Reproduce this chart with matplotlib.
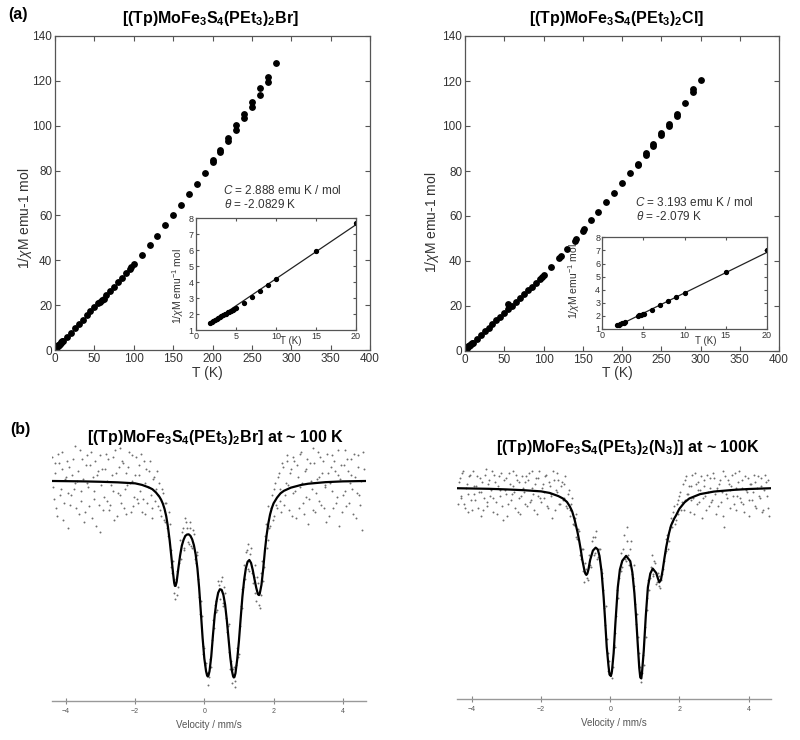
import matplotlib
matplotlib.use("Agg")
import matplotlib.pyplot as plt

plt.rcParams['font.family'] = ['Liberation Sans', 'DejaVu Sans']
plt.rcParams['mathtext.fontset'] = 'custom'
plt.rcParams['mathtext.rm'] = 'Liberation Sans'
plt.rcParams['mathtext.it'] = 'Liberation Sans:italic'
plt.rcParams['mathtext.bf'] = 'Liberation Sans:bold'

# ---- (a) 1/chi vs T, Br compound
T_br = [1.8, 2.0, 2.5, 3.0, 3.5, 4.0, 4.5, 5.0, 6, 7, 8, 9, 10, 15, 20,
        25, 30, 35, 40, 45, 50, 55, 57, 60, 62, 65, 70, 75, 80, 85, 90, 95, 97, 100,
        110, 120, 130, 140, 150, 160, 170, 180, 190,
        200, 200, 210, 210, 220, 220, 230, 230, 240, 240, 250, 250, 260, 260, 270, 270, 280]
inv_br = [1.45, 1.5, 1.65, 1.8, 1.95, 2.1, 2.25, 2.4, 2.75, 3.1, 3.45, 3.8, 4.2, 5.9, 7.7,
          9.7, 11.6, 13.5, 15.4, 17.2, 19.1, 20.8, 21.3, 22.3, 22.8, 24.5, 26.4, 28.3, 30.3, 32.2, 34.2, 36.3, 37.2, 38.3,
          42.3, 46.6, 51.0, 55.6, 60.4, 64.7, 69.4, 74.1, 78.9,
          83.8, 84.6, 88.3, 89.3, 93.0, 94.7, 98.2, 100.1, 103.4, 105.2, 108.3, 110.7, 113.8, 116.6, 119.3, 121.9, 127.8]

# inset (low T)
Ti_br = [1.8, 2.0, 2.2, 2.4, 2.6, 2.8, 3.0, 3.2, 3.4, 3.6, 3.8, 4.0, 4.2, 4.4, 4.6, 4.8, 5.0,
         6, 7, 8, 9, 10, 15, 20]
vi_br = [1.45, 1.5, 1.55, 1.6, 1.68, 1.74, 1.8, 1.86, 1.92, 1.98, 2.03, 2.1, 2.15, 2.2, 2.27, 2.33, 2.38,
         2.72, 3.08, 3.45, 3.82, 4.18, 5.93, 7.72]
fitT_br = [1.8, 20]
fitv_br = [1.42, 7.6]

# ---- (a) Cl compound
T_cl = [1.8, 2.2, 2.6, 4.4, 4.8, 6, 7, 8, 9, 10, 15, 20,
        25, 30, 35, 40, 45, 50, 55, 55, 60, 65, 70, 75, 80, 85, 90, 95, 98, 100,
        110, 120, 122, 130, 140, 142, 150, 152, 160, 170, 180, 190, 200, 210,
        220, 220, 230, 230, 240, 240, 250, 250, 260, 260, 270, 270, 280, 290, 290, 300]
inv_cl = [1.3, 1.37, 1.46, 2.02, 2.12, 2.48, 2.8, 3.14, 3.42, 3.72, 5.38, 7.02,
          8.7, 10.3, 12.0, 13.6, 15.3, 17.0, 18.6, 20.8, 20.2, 21.9, 23.6, 25.3, 27.0, 28.6, 30.3, 32.0, 32.9, 33.6,
          37.3, 41.3, 42.1, 45.5, 48.9, 49.6, 53.2, 54.0, 58.1, 61.8, 66.2, 70.2, 74.7, 79.1,
          82.6, 83.3, 87.0, 88.2, 91.1, 92.2, 95.9, 97.0, 99.9, 101.0, 104.5, 105.5, 110.2, 115.1, 116.6, 120.3]

Ti_cl = [1.8, 2.0, 2.2, 2.4, 2.6, 2.8, 4.3, 4.5, 4.7, 4.9, 5.1, 6, 7, 8, 9, 10, 15, 20]
vi_cl = [1.3, 1.33, 1.37, 1.42, 1.46, 1.5, 1.98, 2.04, 2.1, 2.15, 2.18, 2.48, 2.8, 3.14, 3.42, 3.72, 5.38, 7.02]
fitT_cl = [1.8, 20]
fitv_cl = [1.22, 6.85]

# ---- (b) Mossbauer spectra (velocity channels, mm/s), two interleaved channel sets
vel = [-4.40, -4.35, -4.30, -4.25, -4.20, -4.15, -4.10, -4.05, -4.00, -3.95,
       -3.90, -3.85, -3.80, -3.75, -3.70, -3.65, -3.60, -3.55, -3.50, -3.45,
       -3.40, -3.35, -3.30, -3.25, -3.20, -3.15, -3.10, -3.05, -3.00, -2.95,
       -2.90, -2.85, -2.80, -2.75, -2.70, -2.65, -2.60, -2.55, -2.50, -2.45,
       -2.40, -2.35, -2.30, -2.25, -2.20, -2.15, -2.10, -2.05, -2.00, -1.95,
       -1.90, -1.85, -1.80, -1.75, -1.70, -1.65, -1.60, -1.55, -1.50, -1.45,
       -1.40, -1.35, -1.30, -1.25, -1.20, -1.15, -1.10, -1.05, -1.00, -0.95,
       -0.90, -0.85, -0.80, -0.75, -0.70, -0.65, -0.60, -0.55, -0.50, -0.45,
       -0.40, -0.35, -0.30, -0.25, -0.20, -0.15, -0.10, -0.05, 0.00, 0.05,
       0.10, 0.15, 0.20, 0.25, 0.30, 0.35, 0.40, 0.45, 0.50, 0.55,
       0.60, 0.65, 0.70, 0.75, 0.80, 0.85, 0.90, 0.95, 1.00, 1.05,
       1.10, 1.15, 1.20, 1.25, 1.30, 1.35, 1.40, 1.45, 1.50, 1.55,
       1.60, 1.65, 1.70, 1.75, 1.80, 1.85, 1.90, 1.95, 2.00, 2.05,
       2.10, 2.15, 2.20, 2.25, 2.30, 2.35, 2.40, 2.45, 2.50, 2.55,
       2.60, 2.65, 2.70, 2.75, 2.80, 2.85, 2.90, 2.95, 3.00, 3.05,
       3.10, 3.15, 3.20, 3.25, 3.30, 3.35, 3.40, 3.45, 3.50, 3.55,
       3.60, 3.65, 3.70, 3.75, 3.80, 3.85, 3.90, 3.95, 4.00, 4.05,
       4.10, 4.15, 4.20, 4.25, 4.30, 4.35, 4.40, 4.45, 4.50, 4.55,
       4.60]

vel2 = [-4.375, -4.325, -4.275, -4.225, -4.175, -4.125, -4.075, -4.025, -3.975, -3.925,
        -3.875, -3.825, -3.775, -3.725, -3.675, -3.625, -3.575, -3.525, -3.475, -3.425,
        -3.375, -3.325, -3.275, -3.225, -3.175, -3.125, -3.075, -3.025, -2.975, -2.925,
        -2.875, -2.825, -2.775, -2.725, -2.675, -2.625, -2.575, -2.525, -2.475, -2.425,
        -2.375, -2.325, -2.275, -2.225, -2.175, -2.125, -2.075, -2.025, -1.975, -1.925,
        -1.875, -1.825, -1.775, -1.725, -1.675, -1.625, -1.575, -1.525, -1.475, -1.425,
        -1.375, -1.325, -1.275, -1.225, -1.175, -1.125, -1.075, -1.025, -0.975, -0.925,
        -0.875, -0.825, -0.775, -0.725, -0.675, -0.625, -0.575, -0.525, -0.475, -0.425,
        -0.375, -0.325, -0.275, -0.225, -0.175, -0.125, -0.075, -0.025, 0.025, 0.075,
        0.125, 0.175, 0.225, 0.275, 0.325, 0.375, 0.425, 0.475, 0.525, 0.575,
        0.625, 0.675, 0.725, 0.775, 0.825, 0.875, 0.925, 0.975, 1.025, 1.075,
        1.125, 1.175, 1.225, 1.275, 1.325, 1.375, 1.425, 1.475, 1.525, 1.575,
        1.625, 1.675, 1.725, 1.775, 1.825, 1.875, 1.925, 1.975, 2.025, 2.075,
        2.125, 2.175, 2.225, 2.275, 2.325, 2.375, 2.425, 2.475, 2.525, 2.575,
        2.625, 2.675, 2.725, 2.775, 2.825, 2.875, 2.925, 2.975, 3.025, 3.075,
        3.125, 3.175, 3.225, 3.275, 3.325, 3.375, 3.425, 3.475, 3.525, 3.575,
        3.625, 3.675, 3.725, 3.775, 3.825, 3.875, 3.925, 3.975, 4.025, 4.075,
        4.125, 4.175, 4.225, 4.275, 4.325, 4.375, 4.425, 4.475, 4.525, 4.575]

trans_br = [101.2, 99.1, 100.4, 98.2, 100.9, 99.6, 101.5, 98.9, 100.2, 97.6,
            100.7, 99.3, 101.1, 99.9, 98.6, 100.5, 101.6, 99.0, 100.1, 98.4,
            101.3, 99.7, 100.8, 98.1, 99.5, 101.0, 100.3, 98.8, 97.4, 100.6,
            99.2, 101.4, 100.0, 98.5, 99.8, 101.2, 98.0, 100.4, 99.4, 101.7,
            98.9, 100.9, 99.6, 98.3, 100.7, 99.9, 101.3, 98.7, 100.3, 99.1,
            100.8, 99.5, 98.4, 101.0, 99.9, 98.9, 100.5, 99.3, 98.1, 100.2,
            99.6, 98.7, 99.9, 98.2, 99.4, 97.9, 98.9, 97.2, 97.8, 95.6,
            95.9, 94.0, 95.4, 94.6, 97.0, 97.4, 96.5, 98.1, 97.6, 96.8,
            97.9, 96.6, 97.3, 95.8, 96.2, 94.1, 93.9, 91.6, 91.5, 90.7,
            89.6, 90.9, 90.5, 92.9, 93.7, 93.3, 94.9, 94.0, 95.1, 93.6,
            94.3, 92.3, 92.7, 90.4, 89.7, 90.5, 89.5, 91.5, 91.2, 93.6,
            93.5, 95.7, 96.4, 96.8, 95.4, 96.6, 94.8, 95.7, 93.9, 94.8,
            93.5, 95.3, 94.9, 97.2, 96.6, 98.7, 97.7, 99.3, 98.2, 99.9,
            98.6, 100.4, 99.0, 100.9, 98.8, 99.9, 101.3, 98.5, 100.6, 99.4,
            101.0, 98.1, 100.2, 99.7, 101.5, 98.9, 100.5, 99.2, 97.8, 100.9,
            99.6, 101.7, 98.4, 100.1, 99.0, 101.2, 100.4, 98.6, 99.8, 101.4,
            98.2, 100.7, 99.5, 101.0, 98.9, 100.3, 97.7, 100.8, 99.3, 101.6,
            98.7, 100.5, 99.9, 101.1, 98.3, 100.2, 99.4, 101.3, 98.8, 97.5,
            100.6]

trans2_br = [99.7, 100.9, 98.6, 101.4, 99.3, 100.6, 98.0, 100.1, 101.0, 99.4,
             98.8, 100.3, 99.6, 101.8, 100.0, 98.3, 99.5, 101.1, 97.9, 100.8,
             99.9, 98.7, 101.5, 100.2, 99.1, 97.7, 100.5, 101.3, 99.8, 98.5,
             100.6, 99.0, 101.1, 98.8, 100.3, 99.5, 101.6, 98.2, 100.7, 99.3,
             101.0, 98.6, 100.4, 99.8, 101.5, 98.4, 100.0, 99.2, 101.2, 98.9,
             100.3, 101.4, 99.1, 98.3, 100.6, 99.7, 101.0, 98.6, 100.1, 99.0,
             100.5, 99.3, 98.5, 99.6, 98.0, 98.9, 97.6, 98.4, 96.5, 95.3,
             94.3, 95.0, 94.2, 95.8, 96.0, 97.6, 96.6, 97.9, 96.9, 97.6,
             96.7, 97.5, 96.0, 96.4, 95.0, 93.2, 93.1, 91.2, 90.6, 90.2,
             90.0, 90.5, 91.9, 92.5, 93.9, 93.4, 94.7, 94.9, 93.8, 94.6,
             93.0, 92.6, 91.3, 90.8, 90.4, 89.8, 90.6, 91.0, 92.6, 94.5,
             94.6, 95.0, 96.5, 95.5, 96.3, 95.3, 95.1, 94.3, 95.1, 93.7,
             94.2, 95.9, 95.6, 97.8, 97.0, 97.6, 98.6, 98.0, 99.6, 98.8,
             100.2, 99.6, 98.4, 100.7, 99.3, 101.0, 99.8, 100.4, 98.2, 101.2,
             99.5, 100.8, 98.6, 101.4, 99.9, 98.3, 100.6, 101.1, 99.1, 100.0,
             98.5, 100.9, 99.4, 101.5, 100.2, 98.8, 101.0, 99.7, 97.9, 100.4,
             99.9, 101.3, 98.6, 100.5, 99.2, 101.6, 100.1, 98.4, 100.8, 99.5,
             101.1, 98.9, 100.3, 99.6, 101.4, 98.1, 100.7, 99.3, 100.0, 101.5]

trans_n3 = [99.2, 100.5, 99.6, 100.9, 99.0, 100.2, 99.7, 100.7, 98.9, 100.1,
            99.4, 100.6, 99.8, 98.6, 100.3, 99.5, 101.0, 99.1, 100.4, 99.9,
            98.8, 100.7, 99.3, 100.1, 99.6, 100.8, 98.4, 99.9, 100.5, 99.2,
            100.2, 99.7, 100.9, 99.0, 100.4, 99.5, 98.7, 100.6, 99.8, 100.3,
            99.1, 100.8, 99.4, 100.0, 98.9, 100.5, 99.6, 100.9, 99.3, 100.2,
            99.5, 100.7, 99.0, 100.1, 99.7, 100.9, 98.9, 99.8, 100.4, 99.2,
            100.3, 99.5, 100.6, 99.0, 99.9, 98.6, 99.5, 98.1, 98.7, 97.4,
            97.8, 96.4, 96.9, 95.2, 95.9, 95.3, 96.6, 96.0, 97.5, 96.7,
            97.8, 96.5, 96.9, 95.4, 94.8, 93.0, 92.3, 90.7, 90.5, 90.3,
            92.0, 92.6, 94.8, 95.4, 96.7, 96.0, 97.6, 96.3, 98.0, 96.1,
            97.3, 95.4, 95.0, 93.1, 92.4, 90.4, 90.1, 91.5, 92.9, 93.8,
            95.3, 95.4, 96.6, 95.6, 96.2, 95.2, 95.5, 94.9, 95.6, 96.3,
            96.8, 97.6, 97.3, 98.5, 98.0, 99.1, 98.4, 99.4, 99.6, 98.9,
            100.2, 99.4, 100.6, 99.7, 98.8, 100.1, 99.5, 100.8, 99.2, 100.3,
            99.9, 98.5, 100.4, 99.6, 100.7, 99.1, 100.0, 99.4, 100.5, 98.7,
            99.9, 100.2, 99.3, 100.9, 98.0, 99.7, 100.4, 99.0, 100.1, 99.6,
            100.8, 98.9, 100.3, 99.5, 100.0, 99.2, 100.6, 99.8, 98.6, 100.2,
            99.4, 100.7, 99.1, 100.0, 99.6, 100.5, 98.8, 99.9, 100.3, 99.0,
            98.6]

trans2_n3 = [100.3, 99.5, 100.8, 99.2, 100.0, 98.8, 100.6, 99.4, 100.9, 99.7,
             100.1, 99.0, 100.5, 99.8, 98.9, 100.7, 99.3, 100.2, 99.6, 100.9,
             99.5, 100.3, 98.7, 100.6, 99.9, 99.1, 100.4, 99.7, 98.6, 100.8,
             99.4, 100.1, 99.8, 100.7, 98.8, 100.3, 99.6, 100.0, 99.2, 100.6,
             100.4, 99.3, 100.9, 99.7, 100.2, 98.7, 100.5, 99.5, 100.0, 99.8,
             100.6, 99.1, 100.3, 99.6, 98.5, 100.4, 99.9, 100.8, 99.2, 100.1,
             99.4, 100.2, 99.1, 99.7, 98.9, 99.2, 98.2, 98.5, 97.5, 97.9,
             96.6, 96.9, 95.8, 96.2, 95.4, 96.0, 96.1, 97.3, 96.6, 97.5,
             96.4, 96.9, 95.9, 95.7, 93.9, 94.0, 91.6, 91.2, 90.6, 90.9,
             91.9, 93.5, 94.4, 95.9, 95.8, 96.9, 96.4, 97.3, 96.6, 96.9,
             95.6, 96.1, 94.1, 93.6, 91.6, 90.9, 90.6, 91.0, 92.4, 94.4,
             94.8, 96.0, 95.5, 96.3, 95.1, 95.7, 95.0, 95.3, 95.9, 96.7,
             97.4, 96.9, 98.0, 98.3, 98.8, 98.2, 99.2, 98.7, 99.8, 99.3,
             98.9, 100.4, 99.7, 100.1, 99.4, 100.7, 98.7, 100.2, 99.9, 99.3,
             100.6, 99.5, 100.1, 98.9, 99.8, 100.5, 99.3, 100.8, 99.7, 100.0,
             99.1, 100.4, 99.8, 98.6, 100.6, 99.5, 100.2, 99.9, 100.7, 99.2,
             100.0, 99.6, 100.9, 99.3, 100.4, 98.8, 99.9, 100.5, 99.4, 100.2,
             99.8, 100.3, 99.0, 100.6, 99.5, 100.1, 98.9, 100.7, 99.6, 100.4]

# fitted curves
vel_fit_br = [-4.40, -3.50, -3.00, -2.50, -2.00, -1.80, -1.60, -1.50, -1.40, -1.30,
              -1.25, -1.20, -1.15, -1.10, -1.05, -1.00, -0.95, -0.90, -0.87, -0.85,
              -0.83, -0.80, -0.75, -0.70, -0.65, -0.60, -0.55, -0.50, -0.45, -0.40,
              -0.35, -0.30, -0.25, -0.20, -0.15, -0.10, -0.05, 0.00, 0.05, 0.08,
              0.10, 0.12, 0.15, 0.20, 0.25, 0.30, 0.35, 0.40, 0.45, 0.50,
              0.55, 0.60, 0.65, 0.70, 0.75, 0.80, 0.83, 0.85, 0.87, 0.90,
              0.95, 1.00, 1.05, 1.10, 1.15, 1.20, 1.25, 1.30, 1.35, 1.40,
              1.45, 1.50, 1.55, 1.58, 1.60, 1.65, 1.70, 1.75, 1.80, 1.85,
              1.90, 1.95, 2.00, 2.10, 2.20, 2.30, 2.50, 2.80, 3.00, 3.50,
              4.00, 4.67]
fit_br = [100.0, 99.98, 99.96, 99.93, 99.88, 99.80, 99.67, 99.58, 99.42, 99.20,
          99.05, 98.85, 98.58, 98.20, 97.65, 96.95, 96.10, 95.25, 94.80, 94.65,
          94.65, 94.85, 95.55, 96.20, 96.70, 97.00, 97.20, 97.27, 97.28, 97.20,
          97.02, 96.72, 96.25, 95.55, 94.55, 93.30, 92.00, 90.95, 90.30, 90.08,
          90.03, 90.08, 90.30, 91.05, 92.15, 93.15, 93.85, 94.30, 94.48, 94.45,
          94.20, 93.70, 92.90, 91.95, 91.00, 90.30, 90.05, 89.98, 90.00, 90.20,
          90.90, 91.85, 93.00, 94.10, 94.95, 95.55, 95.88, 95.97, 95.82, 95.45,
          94.98, 94.55, 94.22, 94.18, 94.25, 94.70, 95.50, 96.45, 97.25, 97.85,
          98.30, 98.62, 98.86, 99.15, 99.37, 99.50, 99.66, 99.80, 99.86, 99.94,
          99.98, 100.0]

vel_fit_n3 = [-4.43, -3.50, -3.00, -2.50, -2.00, -1.75, -1.50, -1.37, -1.25, -1.17,
              -1.10, -1.03, -0.95, -0.90, -0.85, -0.81, -0.75, -0.72, -0.69, -0.66,
              -0.63, -0.58, -0.50, -0.42, -0.36, -0.31, -0.25, -0.19, -0.15, -0.10,
              -0.05, -0.02, 0.02, 0.05, 0.10, 0.15, 0.22, 0.28, 0.35, 0.46,
              0.58, 0.64, 0.70, 0.75, 0.80, 0.84, 0.87, 0.90, 0.92, 0.97,
              1.03, 1.09, 1.16, 1.23, 1.33, 1.38, 1.42, 1.47, 1.52, 1.57,
              1.62, 1.70, 1.76, 1.85, 1.90, 2.00, 2.15, 2.29, 2.60, 3.00,
              3.60, 4.00, 4.65]
fit_n3 = [100.0, 99.97, 99.94, 99.90, 99.84, 99.76, 99.60, 99.48, 99.30, 99.08,
          98.82, 98.40, 97.80, 97.36, 96.85, 96.38, 95.85, 95.65, 95.58, 95.65,
          95.85, 96.34, 96.82, 96.97, 96.88, 96.55, 95.75, 94.45, 93.35, 91.90,
          90.95, 90.50, 90.42, 90.65, 91.60, 93.10, 94.95, 95.85, 96.30, 96.55,
          96.28, 95.72, 94.65, 93.40, 91.95, 90.85, 90.35, 90.30, 90.60, 91.70,
          93.50, 94.95, 95.65, 95.90, 95.68, 95.40, 95.20, 95.35, 95.85, 96.45,
          97.00, 97.70, 98.10, 98.45, 98.60, 98.95, 99.28, 99.48, 99.70, 99.83,
          99.92, 99.96, 100.0]

W, H = 800, 740
fig = plt.figure(figsize=(W / 100, H / 100), dpi=100)


def rect(l, t, r, b):
    return [l / W, 1 - b / H, (r - l) / W, (b - t) / H]


def fxy(x, y):
    return x / W, 1 - y / H


TXT = '#333333'
SP = '#555555'


def style_box(ax, size):
    for s in ax.spines.values():
        s.set_color(SP)
        s.set_linewidth(0.9)
    ax.tick_params(direction='in', top=True, right=True, length=3.5, width=0.8,
                   color=SP, labelcolor=TXT, labelsize=size, pad=2)


def chi_panel(box, T, inv, ibox, Ti, vi, fT, fv, ylab_xy, tlab_xy, itl_xy, iyl_xy, c_xy, ctext, ttext):
    ax = fig.add_axes(rect(*box))
    ax.plot(T, inv, 'o', ms=3.9, color='black', mec='black')
    ax.set_xlim(0, 400)
    ax.set_ylim(0, 140)
    ax.set_xticks(range(0, 401, 50))
    ax.set_yticks(range(0, 141, 20))
    style_box(ax, 8.5)
    fig.text(*fxy(*ylab_xy), r'1/$\chi$M emu-1 mol', rotation=90, ha='center', va='center',
             fontsize=10, color=TXT)
    fig.text(*fxy(*tlab_xy), 'T (K)', ha='center', va='center', fontsize=10, color=TXT)
    fig.text(*fxy(*c_xy), r'$\it{C}$ = ' + ctext, ha='left', va='center', fontsize=8.5, color=TXT)
    fig.text(*fxy(c_xy[0] + 1, c_xy[1] + 14), r'$\theta$ = ' + ttext, ha='left', va='center',
             fontsize=8.5, color=TXT)

    ins = fig.add_axes(rect(*ibox))
    ins.plot(fT, fv, '-', color='#222222', lw=0.9)
    ins.plot(Ti, vi, 'o', ms=2.8, color='black')
    ins.set_xlim(0, 20)
    ins.set_ylim(1, 8)
    ins.set_xticks([0, 5, 10, 15, 20])
    ins.set_yticks(range(1, 9))
    style_box(ins, 6.5)
    ins.tick_params(length=2.5, pad=1.5)
    fig.text(*fxy(*iyl_xy), r'1/$\chi$M emu$^{-1}$ mol', rotation=90, ha='center', va='center',
             fontsize=7.5, color=TXT)
    fig.text(*fxy(*itl_xy), 'T (K)', ha='center', va='center', fontsize=7, color=TXT)
    return ax


chi_panel((55, 36, 370, 350), T_br, inv_br, (195.7, 218.3, 356, 330), Ti_br, vi_br, fitT_br, fitv_br,
          (25, 218), (207, 373), (291, 341), (178, 286), (223, 190),
          '2.888 emu K / mol', '-2.0829 K')
chi_panel((465, 36, 779, 351), T_cl, inv_cl, (602.3, 237.3, 767, 329), Ti_cl, vi_cl, fitT_cl, fitv_cl,
          (432, 222), (617, 373), (706, 341), (574, 281), (635, 203),
          '3.193 emu K / mol', '-2.079 K')


def moss_panel(box, xlim, ylim, y, y2, vf, f):
    ax = fig.add_axes(rect(*box))
    ax.plot(vel, y, 'o', ms=1.4, color='#6e6e6e', mec='none')
    ax.plot(vel2, y2, 'o', ms=1.4, color='#6e6e6e', mec='none')
    ax.plot(vf, f, '-', color='black', lw=1.6)
    ax.set_xlim(*xlim)
    ax.set_ylim(*ylim)
    for s in ('top', 'left', 'right'):
        ax.spines[s].set_visible(False)
    ax.spines['bottom'].set_color('#999999')
    ax.spines['bottom'].set_linewidth(1.0)
    ax.set_yticks([])
    ax.set_xticks([-4, -2, 0, 2, 4])
    ax.tick_params(axis='x', direction='inout', length=4, width=0.8, color='#888888',
                   labelsize=5, labelcolor='#555555', pad=3)
    ax.set_xlabel('Velocity / mm/s', fontsize=7, color='#555555', labelpad=4)
    ax.patch.set_alpha(0)
    return ax


moss_panel((52, 440, 366, 701), (-4.4, 4.67), (88.78, 102.09), trans_br, trans2_br, vel_fit_br, fit_br)
moss_panel((457, 440, 771, 699), (-4.43, 4.65), (89.25, 102.46), trans_n3, trans2_n3, vel_fit_n3, fit_n3)

# panel letters and titles
fig.text(*fxy(8, 15), '(a)', fontsize=11.5, fontweight='bold', ha='left', va='center')
fig.text(*fxy(10, 430), '(b)', fontsize=11.5, fontweight='bold', ha='left', va='center')

t_br = r'[(Tp)MoFe$_\mathbf{3}$S$_\mathbf{4}$(PEt$_\mathbf{3}$)$_\mathbf{2}$Br]'
t_cl = r'[(Tp)MoFe$_\mathbf{3}$S$_\mathbf{4}$(PEt$_\mathbf{3}$)$_\mathbf{2}$Cl]'
t_n3 = r'[(Tp)MoFe$_\mathbf{3}$S$_\mathbf{4}$(PEt$_\mathbf{3}$)$_\mathbf{2}$(N$_\mathbf{3}$)] at ~ 100K'
fig.text(*fxy(210, 18), t_br, fontsize=11.5, fontweight='bold', ha='center', va='center')
fig.text(*fxy(617, 18), t_cl, fontsize=11.5, fontweight='bold', ha='center', va='center')
fig.text(*fxy(216, 438), t_br + ' at ~ 100 K', fontsize=11.5, fontweight='bold', ha='center', va='center')
fig.text(*fxy(628, 447), t_n3, fontsize=11.5, fontweight='bold', ha='center', va='center')

fig.savefig('out.png', dpi=100, facecolor='white')
